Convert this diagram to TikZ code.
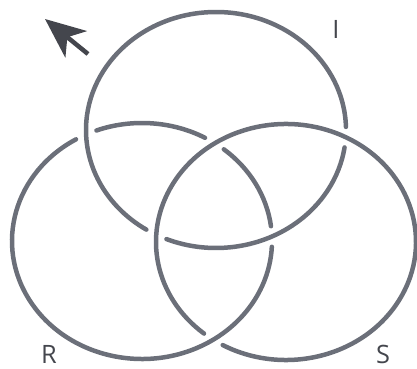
\documentclass[tikz,border=0pt]{standalone}
\usepackage{fontspec}
\setsansfont{Open Sans}
\usepackage{tikz}
\usetikzlibrary{arrows.meta}

\definecolor{ringgray}{HTML}{6B6F79}
\definecolor{arrowgray}{HTML}{44464D}

\begin{document}
\begin{tikzpicture}[
  x=0.025cm, y=0.025cm,
  ring/.style={draw=ringgray, line width=3.2pt, line cap=round},
  lbl/.style={inner sep=0pt, text=arrowgray,
    font=\sffamily\fontsize{18}{20}\selectfont},
  pointer/.style={draw=arrowgray, fill=arrowgray, line width=3.2pt,
    -{Stealth[length=1.0cm, width=0.85cm, inset=0.28cm]}},
]
\useasboundingbox (0,0) rectangle (417,369);

% Ring centres
\coordinate (ci) at (216,239);
\coordinate (cr) at (142,128);
\coordinate (cs) at (286,127);

% Ring I (goes under S twice)
\draw[ring] (ci) ++(1.5:130 and 118)
  arc[start angle=1.5, end angle=237.6, x radius=130, y radius=118];
\draw[ring] (ci) ++(247.6:130 and 118)
  arc[start angle=247.6, end angle=351.5, x radius=130, y radius=118];

% Ring R (under I twice, under S once)
\draw[ring] (cr) ++(7.2:130 and 118)
  arc[start angle=7.2, end angle=51, x radius=130, y radius=118];
\draw[ring] (cr) ++(61:130 and 118)
  arc[start angle=61, end angle=110.5, x radius=130, y radius=118];
\draw[ring] (cr) ++(120.5:130 and 118)
  arc[start angle=120.5, end angle=357.2, x radius=130, y radius=118];

% Ring S (under R at the bottom)
\draw[ring] (cs) ++(240.9:130 and 118)
  arc[start angle=240.9, end angle=590.9, x radius=130, y radius=118];

% Pointer
\coordinate (ptail) at (88,315);
\coordinate (ptip) at (45,350);
\draw[pointer] (ptail) -- (ptip);

% Labels
\node[lbl, anchor=north] (li) at (336,349) {I};
\node[lbl, anchor=south] (lr) at (49,5) {R};
\node[lbl, anchor=south] (ls) at (383,5) {S};

\end{tikzpicture}
\end{document}
